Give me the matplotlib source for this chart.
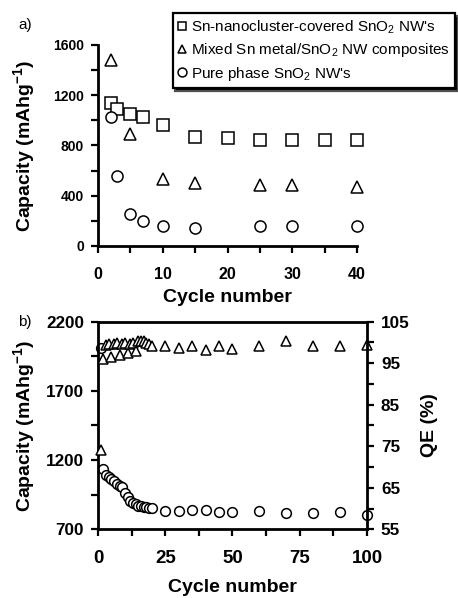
import matplotlib
matplotlib.use("Agg")
import matplotlib.pyplot as plt
from matplotlib.ticker import MultipleLocator

plt.rcParams['font.family'] = ['Liberation Sans', 'DejaVu Sans']
plt.rcParams['mathtext.fontset'] = 'custom'
plt.rcParams['mathtext.rm'] = 'Liberation Sans'
plt.rcParams['mathtext.bf'] = 'Liberation Sans:bold'

# ---- Panel a data ----
cyc_sq = [2, 3, 5, 7, 10, 15, 20, 25, 30, 35, 40]
cap_sq = [1136, 1088, 1048, 1024, 961, 868, 862, 841, 841, 841, 841]
cyc_tri = [2, 5, 10, 15, 25, 30, 40]
cap_tri = [1478, 891, 536, 501, 488, 483, 470]
cyc_circ = [2, 3, 5, 7, 10, 15, 25, 30, 40]
cap_circ = [1024, 555, 252, 201, 162, 146, 162, 162, 162]
labels_a = ["Sn-nanocluster-covered SnO$_2$ NW's",
            "Mixed Sn metal/SnO$_2$ NW composites",
            "Pure phase SnO$_2$ NW's"]

# ---- Panel b data ----
cyc_cap_b = [1, 2, 3, 4, 5, 6, 7, 8, 9, 10, 11, 12, 13, 14, 15, 16, 17, 18, 19, 20,
             25, 30, 35, 40, 45, 50, 60, 70, 80, 90, 100]
cap_b = [2008, 1138, 1090, 1075, 1065, 1050, 1030, 1010, 1005, 965, 930, 905, 890, 880,
         870, 865, 860, 858, 857, 857, 834, 834, 838, 836, 822, 822, 829, 815, 815, 822, 800]
cyc_qe_b = [1, 2, 3, 4, 5, 6, 7, 8, 9, 10, 11, 12, 13, 14, 15, 16, 17, 18, 19, 20,
            25, 30, 35, 40, 45, 50, 60, 70, 80, 90, 100]
qe_b = [74.0, 96.0, 99.4, 99.6, 96.5, 99.5, 99.8, 97.0, 99.6, 99.8, 97.4, 99.7, 99.9, 97.8,
        100.4, 100.2, 100.3, 99.9, 99.6, 99.0,
        99.2, 98.6, 99.0, 98.1, 99.0, 98.4, 99.2, 100.3, 99.2, 99.0, 99.4]

W, H = 458, 598
fig = plt.figure(figsize=(W / 100, H / 100), dpi=100)

def fx(px):
    return px / W

def fy(py):
    return 1 - py / H

ax1 = fig.add_axes([fx(98), fy(246), fx(357) - fx(98), fy(45) - fy(246)])
ax2 = fig.add_axes([fx(98), fy(529.3), fx(367) - fx(98), fy(321.5) - fy(529.3)])

mkw = dict(linestyle='none', markerfacecolor='white', markeredgecolor='black',
           markeredgewidth=1.1, clip_on=False)
ax1.plot(cyc_sq, cap_sq, marker='s', markersize=8, label=labels_a[0], **mkw)
ax1.plot(cyc_tri, cap_tri, marker='^', markersize=8, label=labels_a[1], **mkw)
ax1.plot(cyc_circ, cap_circ, marker='o', markersize=8, label=labels_a[2], **mkw)

ax1.set_xlim(0, 40)
ax1.set_ylim(0, 1600)
ax1.xaxis.set_major_locator(MultipleLocator(10))
ax1.xaxis.set_minor_locator(MultipleLocator(5))
ax1.yaxis.set_major_locator(MultipleLocator(400))
ax1.yaxis.set_minor_locator(MultipleLocator(200))
for s in ['top', 'right']:
    ax1.spines[s].set_visible(False)

ax2.plot(cyc_cap_b, cap_b, marker='o', markersize=7, **mkw)
ax2.set_xlim(0, 100)
ax2.set_ylim(700, 2200)
ax2.xaxis.set_major_locator(MultipleLocator(25))
ax2.xaxis.set_minor_locator(MultipleLocator(12.5))
ax2.yaxis.set_major_locator(MultipleLocator(500, offset=200))
ax2.yaxis.set_minor_locator(MultipleLocator(250, offset=200))
ax2.spines['right'].set_visible(False)

ax3 = ax2.twinx()
ax3.plot(cyc_qe_b, qe_b, marker='^', markersize=7, **mkw)
ax3.set_ylim(55, 105)
ax3.yaxis.set_major_locator(MultipleLocator(10, offset=5))
ax3.yaxis.set_minor_locator(MultipleLocator(5))
ax3.spines['top'].set_visible(False)
ax3.spines['left'].set_visible(False)
ax3.spines['bottom'].set_visible(False)

for a, xs, ys in [(ax1, 11.5, 10), (ax2, 13.5, 12.3), (ax3, 13.5, 12.3)]:
    for s in a.spines.values():
        s.set_linewidth(2)
    a.tick_params(which='both', direction='out', length=5, width=1.6)
    a.tick_params(axis='x', pad=10, labelsize=xs)
    a.tick_params(axis='y', pad=5, labelsize=ys)
    for lab in a.get_xticklabels() + a.get_yticklabels():
        lab.set_fontweight('bold')

lblkw = dict(fontsize=14, fontweight='bold')
ax1.set_ylabel("Capacity (mAhg$^{\\mathbf{-1}}$)", **lblkw)
ax1.yaxis.set_label_coords(-(98 - 25) / 259, 0.5)
ax1.yaxis.label.set_va('center')
ax1.set_xlabel("Cycle number", **lblkw)
ax1.xaxis.set_label_coords(0.5, -(298 - 246) / 201)
ax1.xaxis.label.set_va('center')

ax2.set_ylabel("Capacity (mAhg$^{\\mathbf{-1}}$)", **lblkw)
ax2.yaxis.set_label_coords(-(98 - 25) / 269, 0.5)
ax2.yaxis.label.set_va('center')
ax2.set_xlabel("Cycle number", **lblkw)
ax2.xaxis.set_label_coords(0.5, -(588 - 529.3) / 207.8)
ax2.xaxis.label.set_va('center')

ax3.set_ylabel("QE (%)", **lblkw)
ax3.yaxis.set_label_coords(1 + (430 - 367) / 269, 0.5)
ax3.yaxis.label.set_va('center')

fig.text(fx(25), fy(25), "a)", fontsize=11, ha='center', va='center')
fig.text(fx(25), fy(322), "b)", fontsize=11, ha='center', va='center')

leg = ax1.legend(loc='upper right', bbox_to_anchor=(fx(455), fy(13)),
                 bbox_transform=fig.transFigure, fontsize=11, frameon=True,
                 fancybox=False, shadow={'facecolor': 'black', 'alpha': 1.0},
                 handlelength=0.6, handletextpad=0.25, labelspacing=0.35,
                 borderpad=0.35, borderaxespad=0, markerscale=0.8)
leg.get_frame().set_edgecolor('black')
leg.get_frame().set_linewidth(1.6)

fig.savefig("out.png", dpi=100)
